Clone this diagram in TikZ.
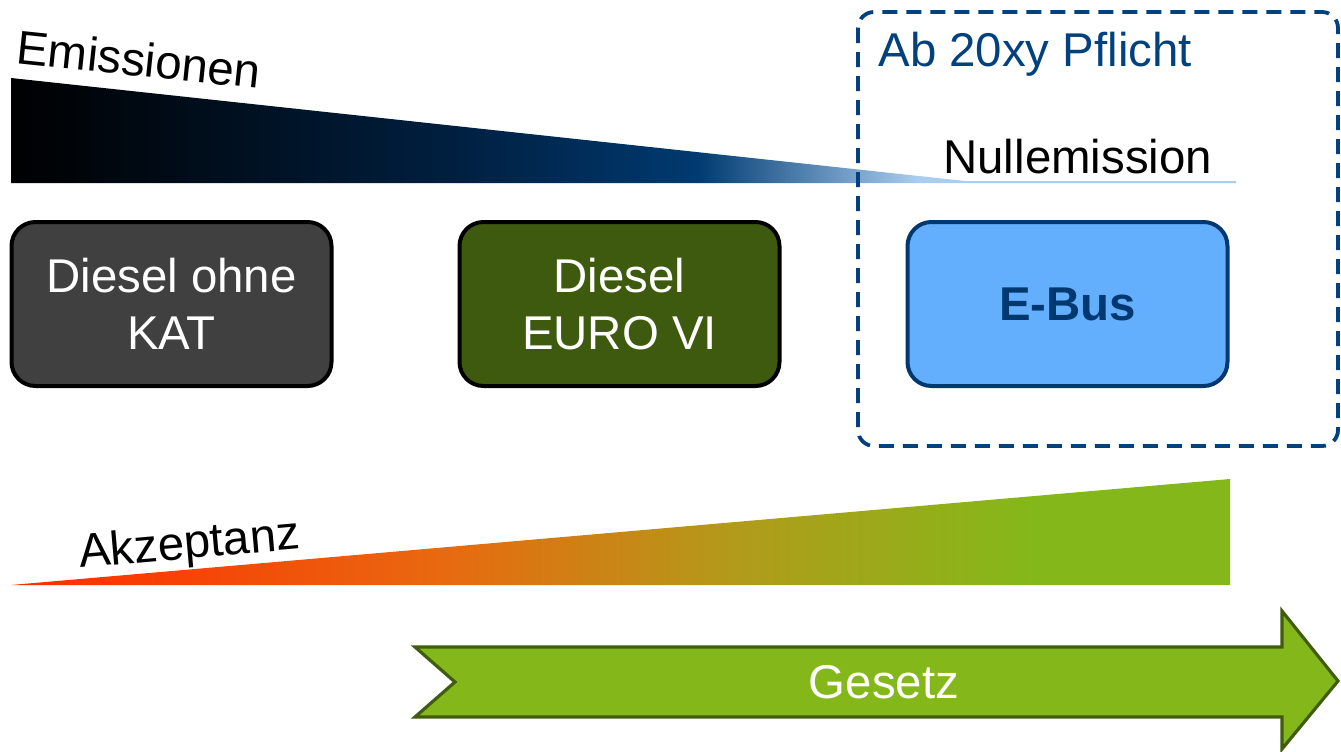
\documentclass[tikz,border=0pt]{standalone}
\usepackage{fontspec}
\setmainfont{Liberation Sans}
\usetikzlibrary{positioning}

\definecolor{emisnavy}{HTML}{003A70}
\definecolor{emismid}{HTML}{001F3F}
\definecolor{emislight}{HTML}{A8CDF0}
\definecolor{akzred}{HTML}{FF2A00}
\definecolor{akzorange}{HTML}{E86A10}
\definecolor{akzolive}{HTML}{B09C1A}
\definecolor{akzgreen}{HTML}{84B81A}
\definecolor{katgray}{HTML}{404040}
\definecolor{euroolive}{HTML}{3E5A0F}
\definecolor{busblue}{HTML}{63AEFD}
\definecolor{busnavy}{HTML}{00386F}
\definecolor{pflicht}{HTML}{00417E}
\definecolor{gesetzline}{HTML}{405D0E}

\pgfdeclarehorizontalshading{emishade}{100bp}{color(0bp)=(black); color(25bp)=(black);
	color(43bp)=(emismid); color(53bp)=(emisnavy); color(62bp)=(emislight); color(100bp)=(emislight)}
\pgfdeclarehorizontalshading{akzshade}{100bp}{color(0bp)=(akzred); color(25bp)=(akzred);
	color(43bp)=(akzorange); color(55bp)=(akzolive); color(67bp)=(akzgreen); color(100bp)=(akzgreen)}

\begin{document}
\begin{tikzpicture}[
		x=0.5pt, y=-0.5pt
		,txt/.style={font=\fontsize{23.7}{28.5}\selectfont, inner sep=0pt}
		,vehicle/.style={draw, line width=2pt, rounded corners=12pt, minimum width=160pt, minimum height=82pt, align=center, txt, text=white}
		,kat/.style={vehicle, fill=katgray}
		,euro/.style={vehicle, fill=euroolive}
		,ebus/.style={vehicle, draw=busnavy, fill=busblue, text=busnavy, font=\fontsize{23.7}{28.5}\selectfont\bfseries}
		,pflichtbox/.style={draw=pflicht, line width=1.9pt, dash pattern=on 7.5pt off 4.5pt, rounded corners=8pt}
		,gesetz/.style={draw=gesetzline, fill=akzgreen, line width=1.6pt}
	]
		\useasboundingbox (0,0) rectangle (1341,751);

		% Emissionen
		\shade[shading=emishade] (11,78) -- (965,181) -- (1236,181) -- (1236,183) -- (11,183) -- cycle;
		\node[txt, anchor=base west, rotate=-6] (emis) at (15,63) {Emissionen};

		% Fahrzeuge
		\node[kat] (kat) at (171.5,304) {Diesel ohne\\KAT};
		\node[euro, right=62pt of kat] (euro) {Diesel\\EURO VI};
		\node[ebus, right=62pt of euro] (ebus) {E-Bus};

		% Pflicht
		\draw[pflichtbox] (858,12) rectangle (1338,446);
		\node[txt, text=pflicht, anchor=base west] (pfl) at (878,66) {Ab 20xy Pflicht};
		\node[txt, anchor=base west] (null) at (943,173) {Nullemission};

		% Akzeptanz
		\shade[shading=akzshade] (11,585) -- (1230,479) -- (1230,585) -- cycle;
		\node[txt, anchor=base west, rotate=5] (akz) at (80,568) {Akzeptanz};

		% Gesetz
		\draw[gesetz] (415,647) -- (1282,647) -- (1282,611) -- (1338,681) -- (1282,749) -- (1282,717) -- (415,717) -- (455,682) -- cycle;
		\node[txt, text=white] (ges) at (884,682) {Gesetz};
	\end{tikzpicture}
\end{document}
